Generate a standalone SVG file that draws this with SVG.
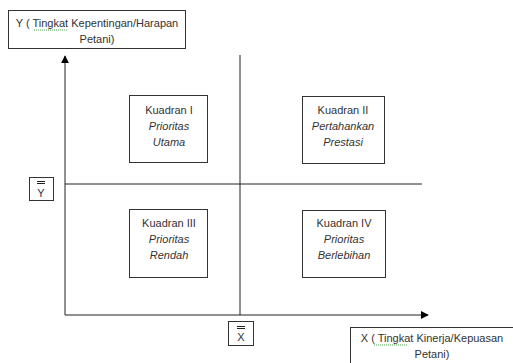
<svg xmlns="http://www.w3.org/2000/svg" width="513" height="363" viewBox="0 0 513 363">
<defs>
<marker id="arr" viewBox="0 0 10 10" refX="9" refY="5" markerWidth="8" markerHeight="8" markerUnits="userSpaceOnUse" orient="auto">
<path d="M0,0 L10,5 L0,10 z" fill="#000"/>
</marker>
<style>
.box{fill:#fff;stroke:#333;stroke-width:1}
.ln{stroke:#222;stroke-width:1;fill:none}
.t{font-family:"Liberation Sans",Arial,sans-serif;font-size:11px;fill:#333;text-anchor:middle}
.i{font-style:italic}
.sq{stroke:#5a5;stroke-width:1;stroke-dasharray:1,1;fill:none}
</style>
</defs>
<rect width="513" height="363" fill="#fff"/>
<g id="connectors">
<line class="ln" x1="65" y1="315" x2="65" y2="56" marker-end="url(#arr)"/>
<line class="ln" x1="65" y1="315" x2="428" y2="315" marker-end="url(#arr)"/>
<line class="ln" x1="240" y1="55" x2="240" y2="315"/>
<line class="ln" x1="65" y1="184" x2="422" y2="184"/>
</g>
<g id="y-label">
<rect class="box" x="8.5" y="10.5" width="177" height="38"/>
<text class="t" x="97" y="27">Y ( Tingkat Kepentingan/Harapan</text>
<text class="t" x="97" y="43">Petani)</text>
<line class="sq" x1="34" y1="30" x2="68" y2="30"/>
</g>
<g id="x-label">
<rect class="box" x="350.5" y="327.5" width="170" height="40"/>
<text class="t" x="432" y="342">X ( Tingkat Kinerja/Kepuasan</text>
<text class="t" x="432" y="358">Petani)</text>
<line class="sq" x1="374" y1="345" x2="408" y2="345"/>
</g>
<g id="ybar">
<rect class="box" x="29.5" y="177.5" width="24" height="23"/>
<line class="ln" x1="37" y1="181.5" x2="45" y2="181.5"/>
<line class="ln" x1="37" y1="183.5" x2="45" y2="183.5"/>
<text class="t" x="41" y="197">Y</text>
</g>
<g id="xbar">
<rect class="box" x="228.5" y="321.5" width="25" height="24"/>
<line class="ln" x1="237" y1="326.5" x2="245" y2="326.5"/>
<line class="ln" x1="237" y1="328.5" x2="245" y2="328.5"/>
<text class="t" x="241" y="341">X</text>
</g>
<g id="q1">
<rect class="box" x="129.5" y="95.5" width="78" height="67"/>
<text class="t" x="169" y="114">Kuadran I</text>
<text class="t i" x="169" y="130">Prioritas</text>
<text class="t i" x="169" y="146">Utama</text>
</g>
<g id="q2">
<rect class="box" x="302.5" y="96.5" width="82" height="67"/>
<text class="t" x="343" y="114">Kuadran II</text>
<text class="t i" x="343" y="130">Pertahankan</text>
<text class="t i" x="343" y="146">Prestasi</text>
</g>
<g id="q3">
<rect class="box" x="129.5" y="209.5" width="78" height="68"/>
<text class="t" x="169" y="227">Kuadran III</text>
<text class="t i" x="169" y="243">Prioritas</text>
<text class="t i" x="169" y="259">Rendah</text>
</g>
<g id="q4">
<rect class="box" x="302.5" y="210.5" width="83" height="67"/>
<text class="t" x="344" y="227">Kuadran IV</text>
<text class="t i" x="344" y="243">Prioritas</text>
<text class="t i" x="344" y="259">Berlebihan</text>
</g>
</svg>
